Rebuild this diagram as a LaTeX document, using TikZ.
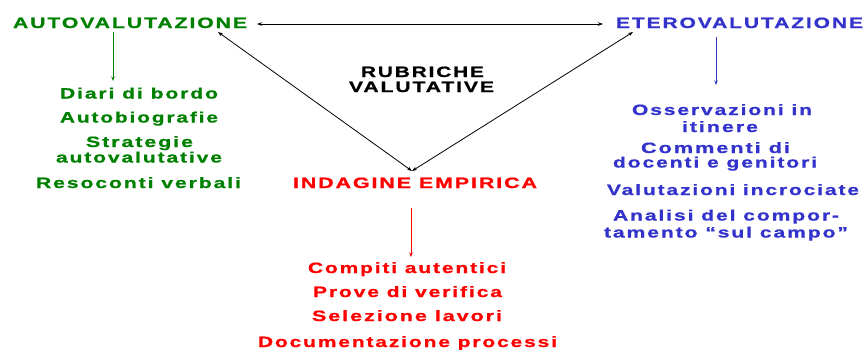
\documentclass[tikz,border=0pt]{standalone}
\usepackage{fontspec}
\setmainfont{Liberation Sans}[LetterSpace=9,BoldFeatures={FakeBold=0.8}]
\usetikzlibrary{arrows.meta}
\definecolor{cgreen}{RGB}{0,128,0}
\definecolor{cblue}{RGB}{51,51,204}
\definecolor{cred}{RGB}{255,0,0}
\newcommand{\tw}[2]{\resizebox{#1pt}{\height}{\bfseries #2}}
\tikzset{
  lbl/.style={inner sep=0pt, anchor=base, font=\fontsize{15}{16}\selectfont},
  link/.style={black, line width=0.8pt, {Stealth[length=5pt,width=3.5pt]}-{Stealth[length=5pt,width=3.5pt]}},
  down/.style={line width=1pt, -{Stealth[length=4.5pt,width=3.5pt]}}
}
\begin{document}
\begin{tikzpicture}[x=1pt,y=-1pt]
\useasboundingbox (0,0) rectangle (865,349);
% main headings
\node[lbl,cgreen] (auto) at (130,28) {\tw{234}{AUTOVALUTAZIONE}};
\node[lbl,cblue] (etero) at (739.5,28) {\tw{247}{ETEROVALUTAZIONE}};
\node[lbl,cred] (emp) at (415,188) {\tw{244}{INDAGINE EMPIRICA}};
\node[lbl,black] (rub1) at (422.5,77) {\tw{123}{RUBRICHE}};
\node[lbl,black] (rub2) at (421.5,92) {\tw{145}{VALUTATIVE}};
% green list
\node[lbl,cgreen] (g1) at (139,98.5) {\tw{158}{Diari di bordo}};
\node[lbl,cgreen] (g2) at (139,122.5) {\tw{158}{Autobiografie}};
\node[lbl,cgreen] (g3) at (139.5,147) {\tw{107}{Strategie}};
\node[lbl,cgreen] (g4) at (139,162.5) {\tw{166}{autovalutative}};
\node[lbl,cgreen] (g5) at (138.5,188) {\tw{205}{Resoconti verbali}};
% blue list
\node[lbl,cblue] (b1) at (722,115) {\tw{180}{Osservazioni in}};
\node[lbl,cblue] (b2) at (720,132) {\tw{76}{itinere}};
\node[lbl,cblue] (b3) at (715.5,153) {\tw{149}{Commenti di}};
\node[lbl,cblue] (b4) at (715,167.5) {\tw{204}{docenti e genitori}};
\node[lbl,cblue] (b5) at (733,195) {\tw{252}{Valutazioni incrociate}};
\node[lbl,cblue] (b6) at (726,220.5) {\tw{226}{Analisi del compor-}};
\node[lbl,cblue] (b7) at (726,237.5) {\tw{244}{tamento \textquotedblleft sul campo\textquotedblright}};
% red list
\node[lbl,cred] (r1) at (407,273) {\tw{198}{Compiti autentici}};
\node[lbl,cred] (r2) at (407.5,297) {\tw{189}{Prove di verifica}};
\node[lbl,cred] (r3) at (407,321) {\tw{190}{Selezione lavori}};
\node[lbl,cred] (r4) at (407.5,347) {\tw{299}{Documentazione processi}};
% arrow end points
\coordinate (autoR) at (257,24);
\coordinate (eteroL) at (603,24);
\coordinate (autoD) at (218,32);
\coordinate (eteroD) at (633,32);
\coordinate (empT) at (412,171);
\coordinate (gS) at (113,32);
\coordinate (gE) at (113,81);
\coordinate (bS) at (716,37);
\coordinate (bE) at (716,85);
\coordinate (rS) at (411,208);
\coordinate (rE) at (411,257);
% connectors
\draw[link] (autoR) -- (eteroL);
\draw[link] (autoD) -- (empT);
\draw[link] (eteroD) -- (empT);
\draw[down,cgreen] (gS) -- (gE);
\draw[down,cblue] (bS) -- (bE);
\draw[down,cred] (rS) -- (rE);
\end{tikzpicture}
\end{document}
